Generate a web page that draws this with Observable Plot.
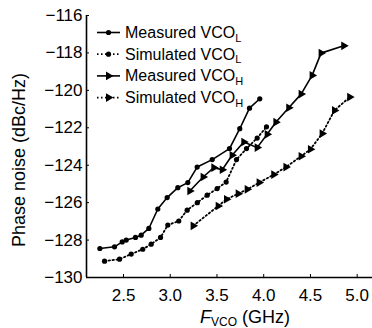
<!DOCTYPE html>
<html><head><meta charset="utf-8">
<script src="https://cdn.jsdelivr.net/npm/d3@7"></script>
<script src="https://cdn.jsdelivr.net/npm/@observablehq/plot@0.6"></script>
<style>
body{margin:0;background:#fff;}
#chart{position:relative;width:372px;height:328px;}
svg{font-family:"Liberation Sans",Arial,sans-serif;}
</style></head><body><div id="chart"></div>
<script>
// Measured VCO_L
const measL_f  = [2.247, 2.404, 2.486, 2.529, 2.628, 2.689, 2.771, 2.867, 2.967, 3.081, 3.188, 3.288, 3.449, 3.634, 3.744, 3.848, 3.958];
const measL_pn = [-128.45, -128.36, -128.10, -128.0, -127.86, -127.74, -127.38, -126.34, -125.73, -125.2, -124.93, -124.1, -123.7, -123.11, -122.05, -120.95, -120.45];
// Simulated VCO_L
const simL_f  = [2.297, 2.457, 2.582, 2.706, 2.796, 2.896, 2.974, 3.091, 3.181, 3.29, 3.395, 3.502, 3.598, 3.709, 3.816, 3.93, 4.03];
const simL_pn = [-129.13, -129.02, -128.75, -128.49, -128.22, -127.86, -127.2, -126.98, -126.4, -126.0, -125.6, -125.25, -124.9, -123.7, -123.11, -122.55, -121.95];
// Measured VCO_H
const measH_f  = [3.209, 3.352, 3.466, 3.556, 3.662, 3.787, 3.93, 4.037, 4.13, 4.268, 4.4, 4.518, 4.614, 4.856];
const measH_pn = [-125.38, -124.63, -124.13, -124.24, -123.47, -122.76, -123.06, -122.35, -121.7, -120.93, -120.2, -119.2, -118.01, -117.62];
// Simulated VCO_H
const simH_f  = [3.245, 3.513, 3.602, 3.727, 3.823, 3.951, 4.107, 4.238, 4.4, 4.5, 4.625, 4.757, 4.92];
const simH_pn = [-127.24, -126.18, -125.82, -125.52, -125.29, -124.93, -124.5, -124.1, -123.52, -123.15, -122.31, -121.07, -120.36];

const xTicks = [2.5, 3.0, 3.5, 4.0, 4.5, 5.0];
const yTicks = [-130, -128, -126, -124, -122, -120, -118, -116];
const xDomain = [2.104, 5.164];
const yDomain = [-130, -116];
const legendNames = ["Measured VCO", "Simulated VCO", "Measured VCO", "Simulated VCO"];
const legendSubs = ["L", "L", "H", "H"];

const rows = (fs, ps) => fs.map((f, i) => ({f, pn: ps[i]}));
const measL = rows(measL_f, measL_pn);
const simL = rows(simL_f, simL_pn);
const measH = rows(measH_f, measH_pn);
const simH = rows(simH_f, simH_pn);

const W = 372, H = 328, mL = 86, mR = 0, mT = 15, mB = 51;
const plotW = W - mL - mR, plotH = H - mT - mB;
const dotted = "1.5,2.5";

const chart = Plot.plot({
  width: W, height: H,
  marginLeft: mL, marginRight: mR, marginTop: mT, marginBottom: mB,
  style: {fontFamily: '"Liberation Sans", Arial, sans-serif', fontSize: "16px", color: "#000", background: "#fff", overflow: "visible"},
  x: {domain: xDomain},
  y: {domain: yDomain},
  marks: [
    Plot.axisX(xTicks, {tickSize: 0, tickPadding: 11, tickFormat: d => d.toFixed(1), label: null, fontSize: 17}),
    Plot.axisY(yTicks, {tickSize: 0, tickPadding: 4, tickFormat: d => "\u2212" + Math.abs(d), label: null, fontSize: 17}),
    Plot.tickX(xTicks, {x: d => d, insetTop: plotH - 3, stroke: "#000"}),
    Plot.tickY(yTicks, {y: d => d, insetRight: plotW - 3, stroke: "#000"}),
    Plot.ruleX([xDomain[0]], {stroke: "#000", strokeWidth: 1.6}),
    Plot.ruleY([yDomain[0]], {stroke: "#000", strokeWidth: 1.6}),
    Plot.line(simL, {x: "f", y: "pn", stroke: "#000", strokeWidth: 1.8, strokeDasharray: dotted}),
    Plot.dot(simL, {x: "f", y: "pn", r: 2.6, fill: "#000"}),
    Plot.line(simH, {x: "f", y: "pn", stroke: "#000", strokeWidth: 1.8, strokeDasharray: dotted}),
    Plot.dot(simH, {x: "f", y: "pn", r: 3.2, symbol: "triangle", rotate: 90, fill: "#000"}),
    Plot.line(measL, {x: "f", y: "pn", stroke: "#000", strokeWidth: 1.6}),
    Plot.dot(measL, {x: "f", y: "pn", r: 2.6, fill: "#000"}),
    Plot.line(measH, {x: "f", y: "pn", stroke: "#000", strokeWidth: 1.6}),
    Plot.dot(measH, {x: "f", y: "pn", r: 3.2, symbol: "triangle", rotate: 90, fill: "#000"})
  ]
});
document.getElementById("chart").appendChild(chart);

const svg = d3.select(chart);
// Y label
svg.append("text")
  .attr("transform", "translate(25,160) rotate(-90)")
  .attr("text-anchor", "middle").attr("font-size", 18).attr("fill", "#000")
  .text("Phase noise (dBc/Hz)");
// X label
const xl = svg.append("text").attr("x", 245).attr("y", 323)
  .attr("text-anchor", "middle").attr("font-size", 18).attr("fill", "#000");
xl.append("tspan").attr("font-style", "italic").text("F");
xl.append("tspan").attr("font-size", 12).attr("dy", 3).text("VCO");
xl.append("tspan").attr("dy", -3).text(" (GHz)");

// Legend
const lg = svg.append("g").attr("text-anchor", "start");
const tri = d3.symbol(d3.symbolTriangle, Math.PI * 3.2 * 3.2)();
legendNames.forEach((name, i) => {
  const y = 32.5 + i * 21.7;
  const isSim = i % 2 === 1;
  lg.append("line").attr("x1", 97).attr("x2", 120).attr("y1", y).attr("y2", y)
    .attr("stroke", "#000").attr("stroke-width", isSim ? 1.8 : 1.6)
    .attr("stroke-dasharray", isSim ? dotted : null);
  if (i < 2) {
    lg.append("circle").attr("cx", 108.5).attr("cy", y).attr("r", 2.6).attr("fill", "#000");
  } else {
    lg.append("path").attr("d", tri).attr("transform", `translate(108.5,${y}) rotate(90)`).attr("fill", "#000");
  }
  const t = lg.append("text").attr("x", 125).attr("y", y + 5.5)
    .attr("text-anchor", "start").attr("font-size", 16).attr("fill", "#000");
  t.append("tspan").text(name);
  t.append("tspan").attr("font-size", 11).attr("dy", 3.5).text(legendSubs[i]);
});
</script></body></html>
